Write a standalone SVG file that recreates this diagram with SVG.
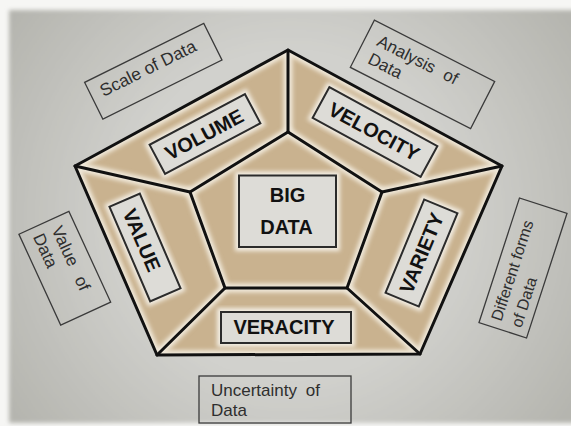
<svg xmlns="http://www.w3.org/2000/svg" width="571" height="426" viewBox="0 0 571 426">
  <defs>
    <radialGradient id="bg" cx="290" cy="215" r="340" gradientUnits="userSpaceOnUse">
      <stop offset="0" stop-color="#dcdcd8"/>
      <stop offset="0.5" stop-color="#d0d0cc"/>
      <stop offset="1" stop-color="#b5b5af"/>
    </radialGradient>
    <filter id="soft" x="-20%" y="-20%" width="140%" height="140%">
      <feGaussianBlur stdDeviation="2.2"/>
    </filter>
    <filter id="frameBlur" x="-5%" y="-5%" width="110%" height="110%">
      <feGaussianBlur stdDeviation="2"/>
    </filter>
    <clipPath id="inside">
      <polygon points="288,50 502,166 420,354 157,355 75,166"/>
    </clipPath>
  </defs>
  <style>
    .sec { fill: #c9b28f; }
    .halo { fill: none; stroke: #f1eadc; stroke-width: 9; stroke-linejoin: round; filter: url(#soft); }
    .edge { fill: none; stroke: #111; stroke-width: 3; stroke-linejoin: round; stroke-linecap: round; }
    .tag { fill: #dddcd7; stroke: #2b2b2b; stroke-width: 2; }
    .tagHalo { fill: none; stroke: #f3eee4; stroke-width: 8; filter: url(#soft); }
    .tagTxt { font-family: "Liberation Sans", Arial, sans-serif; font-weight: bold; font-size: 20px; fill: #111; text-anchor: middle; }
    .note { fill: none; stroke: #3a3a3a; stroke-width: 1.3; }
    .noteTxt { font-family: "Liberation Sans", Arial, sans-serif; font-size: 17px; fill: #2e2e2e; }
  </style>

  <!-- backdrop -->
  <rect x="0" y="0" width="571" height="426" fill="#f6f6f4"/>
  <rect x="9" y="10" width="572" height="413" fill="url(#bg)" filter="url(#frameBlur)"/>

  <!-- pentagon sections -->
  <g id="sections">
    <polygon class="sec" points="75,166 288,50 288,132 190,192"/>
    <polygon class="sec" points="288,50 502,166 382,192 288,132"/>
    <polygon class="sec" points="502,166 420,354 347,288 382,192"/>
    <polygon class="sec" points="420,354 157,355 225,288 347,288"/>
    <polygon class="sec" points="157,355 75,166 190,192 225,288"/>
    <polygon class="sec" points="288,132 382,192 347,288 225,288 190,192"/>
  </g>

  <!-- frame lines of the pentagon -->
  <g id="connectors">
    <g clip-path="url(#inside)">
      <polygon class="halo" points="288,50 502,166 420,354 157,355 75,166"/>
      <polygon class="halo" points="288,132 382,192 347,288 225,288 190,192"/>
      <path class="halo" d="M288,50 L288,132 M502,166 L382,192 M420,354 L347,288 M157,355 L225,288 M75,166 L190,192"/>
    </g>
    <polygon class="edge" points="288,50 502,166 420,354 157,355 75,166"/>
    <polygon class="edge" points="288,132 382,192 347,288 225,288 190,192"/>
    <path class="edge" d="M288,50 L288,132 M502,166 L382,192 M420,354 L347,288 M157,355 L225,288 M75,166 L190,192"/>
  </g>

  <!-- centre -->
  <g id="big-data">
    <rect class="tagHalo" x="239" y="175.5" width="97" height="71.5"/>
    <rect class="tag" x="239" y="175.5" width="97" height="71.5"/>
    <text class="tagTxt" x="287.5" y="202">BIG</text>
    <text class="tagTxt" x="286.5" y="234">DATA</text>
  </g>

  <g id="volume" transform="translate(205,134) rotate(-28)">
    <rect class="tagHalo" x="-54" y="-16.5" width="108" height="33"/>
    <rect class="tag" x="-54" y="-16.5" width="108" height="33"/>
    <text class="tagTxt" x="-1" y="7">VOLUME</text>
  </g>

  <g id="velocity" transform="translate(375,132) rotate(28.6)">
    <rect class="tagHalo" x="-61.5" y="-17.5" width="123" height="35"/>
    <rect class="tag" x="-61.5" y="-17.5" width="123" height="35"/>
    <text class="tagTxt" x="-1" y="7">VELOCITY</text>
  </g>

  <g id="variety" transform="translate(421.5,253) rotate(-67.5)">
    <rect class="tagHalo" x="-50.5" y="-18" width="101" height="36"/>
    <rect class="tag" x="-50.5" y="-18" width="101" height="36"/>
    <text class="tagTxt" x="0" y="7">VARIETY</text>
  </g>

  <g id="veracity">
    <rect class="tagHalo" x="221" y="312" width="130" height="31"/>
    <rect class="tag" x="221" y="312" width="130" height="31"/>
    <text class="tagTxt" x="284" y="334">VERACITY</text>
  </g>

  <g id="value" transform="translate(145,247.5) rotate(66.7)">
    <rect class="tagHalo" x="-51.5" y="-16.5" width="103" height="33"/>
    <rect class="tag" x="-51.5" y="-16.5" width="103" height="33"/>
    <text class="tagTxt" x="-8" y="7">VALUE</text>
  </g>

  <!-- side notes -->
  <g id="scale-of-data" transform="translate(153.3,71.2) rotate(-26.4)">
    <rect class="note" x="-66.5" y="-20.5" width="133" height="41"/>
    <text class="noteTxt" x="-56" y="1" style="font-size:17.5px">Scale of Data</text>
  </g>

  <g id="analysis-of-data" transform="translate(422.5,74.4) rotate(27)">
    <rect class="note" x="-67.5" y="-26.5" width="135" height="53"/>
    <text class="noteTxt" x="-55" y="-5" word-spacing="6">Analysis of</text>
    <text class="noteTxt" x="-55" y="15">Data</text>
  </g>

  <g id="value-of-data" transform="translate(64.8,268.2) rotate(65.3)">
    <rect class="note" x="-50" y="-27.5" width="100" height="55"/>
    <text class="noteTxt" x="-41" y="-4" word-spacing="8">Value of</text>
    <text class="noteTxt" x="-42" y="16">Data</text>
  </g>

  <g id="different-forms" transform="translate(523,268) rotate(-72)">
    <rect class="note" x="-65.5" y="-25" width="131" height="50"/>
    <text class="noteTxt" x="-58" y="-4" style="font-size:16px">Different forms</text>
    <text class="noteTxt" x="-58" y="17" style="font-size:16px">of Data</text>
  </g>

  <g id="uncertainty-of-data">
    <rect class="note" x="199" y="376" width="152" height="47"/>
    <text class="noteTxt" x="211" y="396" word-spacing="4">Uncertainty of</text>
    <text class="noteTxt" x="211" y="416">Data</text>
  </g>
</svg>
